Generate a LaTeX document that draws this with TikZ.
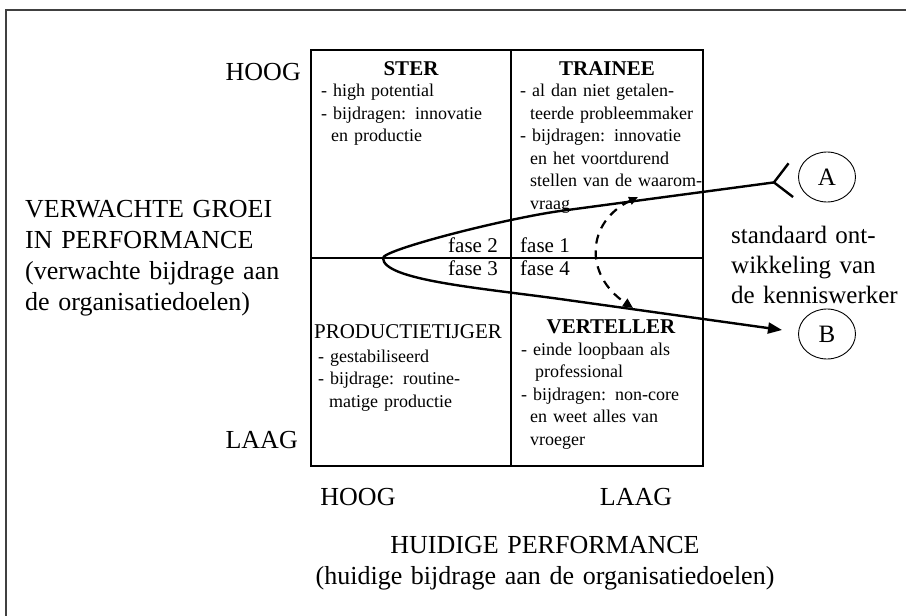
\documentclass[tikz,border=0pt]{standalone}
\usepackage{fontspec}
\setmainfont{Liberation Serif}
\usetikzlibrary{arrows.meta,shapes.geometric}
\begin{document}
\begin{tikzpicture}[x=1pt,y=-1pt,
  framestyle/.style={line width=1.3pt, draw=black!75},
  gridline/.style={line width=1.2pt},
  axlabel/.style={font=\fontsize{26}{31}\selectfont, inner sep=0pt},
  qtitle/.style={font=\bfseries\fontsize{21}{25}\selectfont, inner sep=0pt, anchor=base},
  qlist/.style={font=\fontsize{18}{22.5}\selectfont, inner sep=0pt, anchor=base west, text width=220pt, align=left},
  fasestyle/.style={font=\fontsize{21}{25}\selectfont, inner sep=0pt},
  circ/.style={ellipse, draw, line width=0.9pt, minimum width=57pt, minimum height=50pt, inner sep=0pt, font=\fontsize{25}{30}\selectfont},
  mainline/.style={line width=2.4pt},
  dashline/.style={line width=2.2pt, dash pattern=on 9pt off 7pt},
]
\useasboundingbox (0,0) rectangle (906,616);
% outer frame (only top and left edges visible)
\coordinate (fbl) at (6,616);
\coordinate (ftl) at (6,10);
\coordinate (ftr) at (906,10);
\draw[framestyle] (fbl) -- (ftl) -- (ftr);

% grid
\coordinate (gnw) at (311,50);
\coordinate (gse) at (703,466);
\coordinate (gtm) at (511,50);
\coordinate (gbm) at (511,466);
\coordinate (glm) at (311,258);
\coordinate (grm) at (703,258);
\draw[gridline] (gnw) rectangle (gse);
\draw[gridline] (gtm) -- (gbm);
\draw[gridline] (glm) -- (grm);

% left axis
\node[axlabel, anchor=base east] (hoogL) at (301,80) {HOOG};
\node[axlabel, anchor=base east] (laagL) at (298,448) {LAAG};
\node[axlabel, anchor=base west, text width=290pt, align=left] (verw) at (25,217)
  {VERWACHTE GROEI\\IN PERFORMANCE\\(verwachte bijdrage aan\\de organisatiedoelen)};

% bottom axis
\node[axlabel, anchor=base] (hoogB) at (358,505) {HOOG};
\node[axlabel, anchor=base] (laagB) at (636,505) {LAAG};
\node[axlabel, anchor=base, text width=480pt, align=center] (huid) at (545,553)
  {HUIDIGE PERFORMANCE\\(huidige bijdrage aan de organisatiedoelen)};

% quadrants
\node[qtitle] (ster) at (411,75) {STER};
\node[qlist] (sterl) at (321,96.5) {- high potential\\- bijdragen: innovatie\\\hspace*{10pt}en productie};

\node[qtitle] (trainee) at (607,75) {TRAINEE};
\node[qlist] (traineel) at (520,96.5) {- al dan niet getalen-\\\hspace*{10pt}teerde probleemmaker\\- bijdragen: innovatie\\\hspace*{10pt}en het voortdurend\\\hspace*{10pt}stellen van de waarom-\\\hspace*{10pt}vraag};

\node[qtitle, font=\fontsize{21}{25}\selectfont] (prod) at (408,338) {PRODUCTIETIJGER};
\node[qlist] (prodl) at (318,362) {- gestabiliseerd\\- bijdrage: routine-\\\hspace*{11pt}matige productie};

\node[qtitle] (vert) at (611,333) {VERTELLER};
\node[qlist] (vertl) at (521,355) {- einde loopbaan als\\\hspace*{14pt}professional\\- bijdragen: non-core\\\hspace*{9pt}en weet alles van\\\hspace*{9pt}vroeger};

% fase labels
\node[fasestyle, anchor=base east] (f2) at (498,252) {fase 2};
\node[fasestyle, anchor=base west] (f1) at (520,252) {fase 1};
\node[fasestyle, anchor=base east] (f3) at (498,275) {fase 3};
\node[fasestyle, anchor=base west] (f4) at (520,275) {fase 4};

% right side
\node[circ] (A) at (827,177) {A};
\node[circ] (B) at (827,334) {B};
\node[font=\fontsize{25}{30}\selectfont, inner sep=0pt, anchor=base west, text width=180pt, align=left] (std) at (731,243)
  {standaard ont-\\wikkeling van\\de kenniswerker};

% main development curve
\coordinate (a0) at (792,180);
\coordinate (b0) at (782,330);
\draw[mainline, {Straight Barb[reversed,length=17pt,width=34pt]}-{Triangle[length=14pt,width=11pt]}]
  (a0) -- (560,211) .. controls (500,219.6) and (383,250) .. (383,258)
  .. controls (383,280) and (480,288) .. (560,299) -- (b0);

% dashed shortcut
\coordinate (d0) at (638,197);
\coordinate (d1) at (633,308);
\draw[dashline, {Triangle[length=9pt,width=8pt]}-{Triangle[length=10pt,width=9pt]}]
  (d0) .. controls (586,222) and (584,275) .. (d1);
\end{tikzpicture}
\end{document}
